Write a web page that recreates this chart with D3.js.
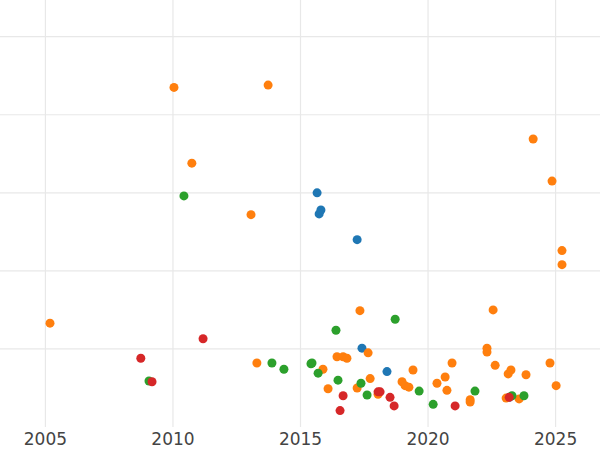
<!DOCTYPE html>
<html>
<head>
<meta charset="utf-8">
<script src="https://cdn.jsdelivr.net/npm/d3@7"></script>
<style>body{margin:0;background:#fff}</style>
</head>
<body>
<div id="chart"></div>
<script>
// data: [year, value]
var orange = [[2005.2,1.33],[2010.06,4.35],[2010.76,3.38],[2013.08,2.72],[2013.75,4.38],[2013.31,0.82],
  [2015.9,0.74],[2016.1,0.49],[2016.45,0.9],[2016.69,0.9],[2016.84,0.88],[2017.24,0.5],[2017.35,1.49],
  [2017.67,0.95],[2017.75,0.62],[2018.06,0.42],[2019.0,0.58],[2019.12,0.53],[2019.27,0.51],[2019.43,0.73],
  [2020.37,0.56],[2020.69,0.64],[2020.76,0.47],[2020.96,0.82],[2021.67,0.35],[2021.67,0.32],[2022.33,1.01],
  [2022.33,0.96],[2022.57,1.5],[2022.65,0.79],[2023.08,0.37],[2023.16,0.68],[2023.27,0.73],[2023.59,0.36],
  [2023.86,0.67],[2024.14,3.69],[2024.8,0.82],[2024.88,3.15],[2025.04,0.53],[2025.27,2.26],[2025.27,2.08]];
var blue = [[2015.67,3.0],[2015.75,2.73],[2015.82,2.78],[2017.24,2.4],[2017.43,1.01],[2018.41,0.71],[2023.2,0.38]];
var green = [[2010.45,2.96],[2009.08,0.59],[2013.9,0.82],[2014.37,0.74],[2015.43,0.81],[2015.47,0.82],
  [2015.71,0.69],[2016.41,1.24],[2016.49,0.6],[2017.39,0.56],[2017.63,0.41],[2018.73,1.38],[2019.67,0.46],
  [2020.22,0.29],[2021.86,0.46],[2023.31,0.4],[2023.78,0.4]];
var red = [[2008.76,0.88],[2009.2,0.58],[2011.2,1.13],[2016.57,0.21],[2016.69,0.4],[2018.06,0.45],
  [2018.14,0.45],[2018.53,0.38],[2018.69,0.27],[2021.08,0.27],[2023.2,0.38]];
var xTicks = [2005, 2010, 2015, 2020, 2025];
var yGrid = [1, 2, 3, 4, 5];

var width = 600, height = 450;
var svg = d3.select("#chart").append("svg").attr("width", width).attr("height", height);

var x = d3.scaleLinear().domain([2003.24, 2026.76]).range([0, width]);
var y = d3.scaleLinear().domain([0, 5.47]).range([427, 0]);

svg.append("g").selectAll("line").data(yGrid).enter().append("line")
  .attr("x1", 0).attr("x2", width)
  .attr("y1", function(d){ return y(d); }).attr("y2", function(d){ return y(d); })
  .attr("stroke", "#e8e8e8").attr("stroke-width", 1.2);

var xAxis = svg.append("g").attr("transform", "translate(0,427)")
  .call(d3.axisBottom(x).tickValues(xTicks).tickFormat(d3.format("d")).tickSize(-427).tickPadding(6));
xAxis.select(".domain").remove();
xAxis.selectAll("line").attr("stroke", "#e8e8e8").attr("stroke-width", 1.2);
xAxis.selectAll("text").attr("fill", "#444").style("font-size", "17px").style("font-family", "DejaVu Sans");

var series = [[blue, "#1f77b4"], [orange, "#ff7f0e"], [green, "#2ca02c"], [red, "#d62728"]];
series.forEach(function(s){
  svg.append("g").selectAll("circle").data(s[0]).enter().append("circle")
    .attr("cx", function(d){ return x(d[0]); })
    .attr("cy", function(d){ return y(d[1]); })
    .attr("r", 4.5)
    .attr("fill", s[1]);
});
</script>
</body>
</html>
